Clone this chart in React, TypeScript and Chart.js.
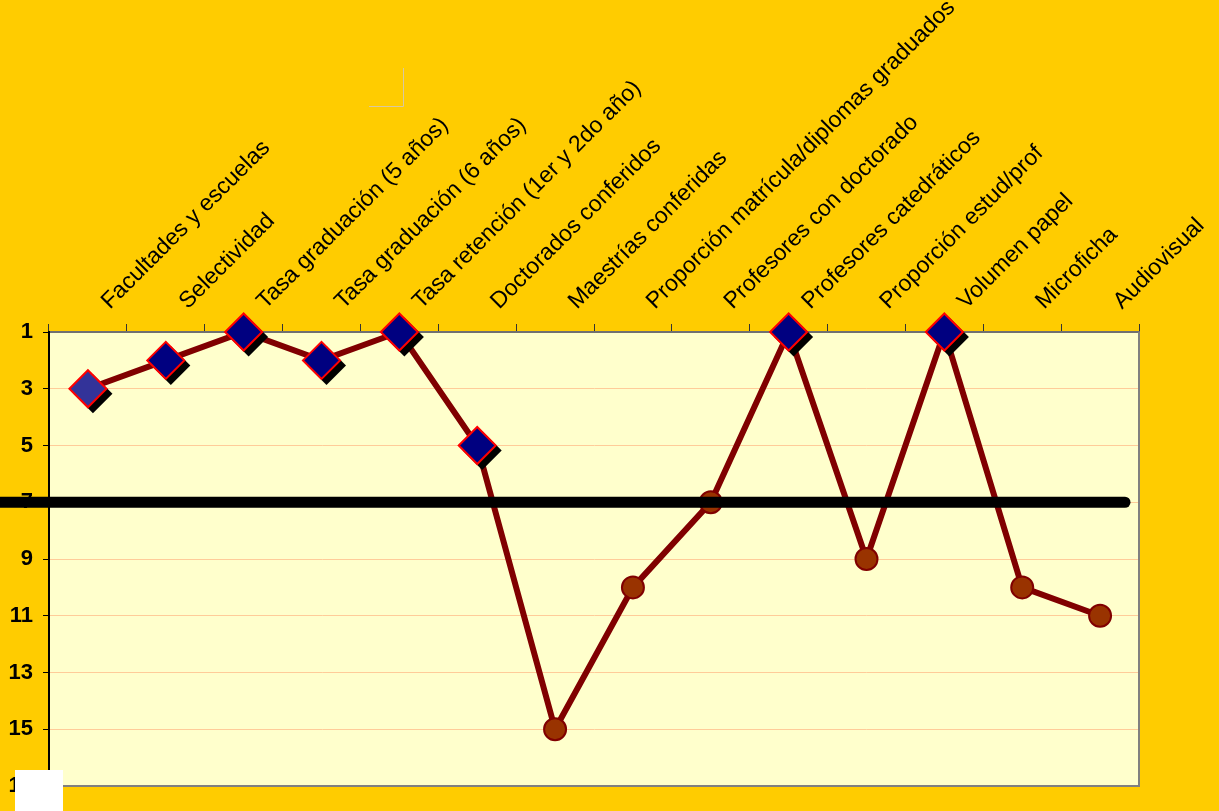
import React, { useEffect, useRef } from "react";
import { Chart, registerables } from "chart.js";

Chart.register(...registerables);

const categories = [
  "Facultades y escuelas",
  "Selectividad",
  "Tasa graduación (5 años)",
  "Tasa graduación (6 años)",
  "Tasa retención (1er y 2do año)",
  "Doctorados conferidos",
  "Maestrías conferidas",
  "Proporción matrícula/diplomas graduados",
  "Profesores con doctorado",
  "Profesores catedráticos",
  "Proporción estud/prof",
  "Volumen papel",
  "Microficha",
  "Audiovisual",
];

const ranks = [3, 2, 1, 2, 1, 5, 15, 10, 7, 1, 9, 1, 10, 11];

const threshold = 7;

const yTickValues = [1, 3, 5, 7, 9, 11, 13, 15, 17];

const FONT = "'Liberation Sans', Arial, sans-serif";

const decorPlugin = {
  id: "decor",
  beforeDraw(chart: any) {
    const { ctx, chartArea: a } = chart;
    ctx.save();
    ctx.fillStyle = "#FFCC00";
    ctx.fillRect(0, 0, chart.width, chart.height);
    ctx.fillStyle = "#FFFFCC";
    ctx.fillRect(a.left, a.top, a.right - a.left, a.bottom - a.top);
    ctx.restore();
  },
  beforeDatasetDraw(chart: any, args: any) {
    if (args.index !== 0) return;
    // drop shadow of the diamond markers, taken from the element positions
    const ctx = chart.ctx;
    const meta = chart.getDatasetMeta(0);
    ctx.save();
    ctx.fillStyle = "#000000";
    meta.data.forEach((pt: any) => {
      if (pt.skip || !isFinite(pt.y)) return;
      const r = pt.options.radius + 1;
      const cx = pt.x + 5;
      const cy = pt.y + 5;
      ctx.beginPath();
      ctx.moveTo(cx, cy - r);
      ctx.lineTo(cx + r, cy);
      ctx.lineTo(cx, cy + r);
      ctx.lineTo(cx - r, cy);
      ctx.closePath();
      ctx.fill();
    });
    ctx.restore();
  },
  afterDraw(chart: any) {
    const { ctx, chartArea: a } = chart;
    ctx.save();
    // right & bottom frame
    ctx.strokeStyle = "#808080";
    ctx.lineWidth = 2;
    ctx.beginPath();
    ctx.moveTo(a.right, a.top);
    ctx.lineTo(a.right, a.bottom);
    ctx.lineTo(a.left, a.bottom);
    ctx.stroke();
    // threshold line
    const y = chart.scales.y.getPixelForValue(threshold);
    ctx.strokeStyle = "#000000";
    ctx.lineWidth = 11;
    ctx.lineCap = "round";
    ctx.beginPath();
    ctx.moveTo(-10, y);
    ctx.lineTo(a.right - 14, y);
    ctx.stroke();
    // faint stray corner
    ctx.lineCap = "butt";
    ctx.strokeStyle = "#D8C8A0";
    ctx.lineWidth = 1;
    ctx.beginPath();
    ctx.moveTo(369, 106.5);
    ctx.lineTo(403.5, 106.5);
    ctx.lineTo(403.5, 68);
    ctx.stroke();
    // white box bottom-left
    ctx.fillStyle = "#FFFFFF";
    ctx.fillRect(15, a.bottom - 16, 48, chart.height - (a.bottom - 16));
    ctx.restore();
  },
};

export default function App() {
  const ref = useRef<HTMLCanvasElement | null>(null);

  useEffect(() => {
    if (!ref.current) return;
    const chart = new Chart(ref.current, {
      type: "line",
      data: {
        labels: categories,
        datasets: [
          {
            label: "above",
            data: ranks.map((v) => (v < threshold ? v : null)),
            showLine: false,
            pointStyle: "rectRot",
            pointRadius: 18.5,
            pointBackgroundColor: ranks.map((_, i) => (i === 0 ? "#333399" : "#000080")),
            pointBorderColor: "#FF0000",
            pointBorderWidth: 2,
            order: 0,
            clip: false,
          } as any,
          {
            label: "rank",
            data: ranks,
            borderColor: "#800000",
            borderWidth: 6,
            tension: 0,
            pointStyle: "circle",
            pointRadius: ranks.map((v) => (v < threshold ? 0 : 11)),
            pointBackgroundColor: "#993300",
            pointBorderColor: "#800000",
            pointBorderWidth: 2,
            order: 1,
            clip: false,
          } as any,
        ],
      },
      options: {
        animation: false,
        responsive: false,
        devicePixelRatio: 1,
        events: [],
        layout: { autoPadding: false, padding: { left: 0, top: 0, right: 80, bottom: 25 } },
        plugins: { legend: { display: false }, tooltip: { enabled: false } },
        scales: {
          x: {
            type: "category",
            position: "top",
            offset: true,
            grid: {
              offset: true,
              drawOnChartArea: false,
              drawTicks: true,
              tickLength: 8,
              color: "#333333",
              lineWidth: 1,
            },
            border: { color: "#707070", width: 2 },
            ticks: {
              autoSkip: false,
              maxRotation: 45,
              minRotation: 45,
              padding: 9,
              labelOffset: 37,
              color: "#000000",
              font: { family: FONT, size: 23 },
            },
            afterFit: (s: any) => {
              s.height = 332;
            },
          },
          y: {
            type: "linear",
            reverse: true,
            min: 1,
            max: 17,
            afterBuildTicks: (s: any) => {
              s.ticks = yTickValues.map((v) => ({ value: v }));
            },
            grid: {
              color: "#FFCC99",
              lineWidth: 1,
              tickLength: 6,
              tickColor: "#000000",
            },
            border: { color: "#000000", width: 2 },
            ticks: {
              padding: 10,
              color: "#000000",
              font: { family: FONT, size: 22, weight: "bold" },
            },
            afterFit: (s: any) => {
              s.width = 49;
            },
          },
        },
      } as any,
      plugins: [decorPlugin],
    });
    return () => chart.destroy();
  }, []);

  return (
    <canvas
      ref={ref}
      width={1219}
      height={811}
      style={{ position: "fixed", left: 0, top: 0, width: 1219, height: 811, display: "block" }}
    />
  );
}
